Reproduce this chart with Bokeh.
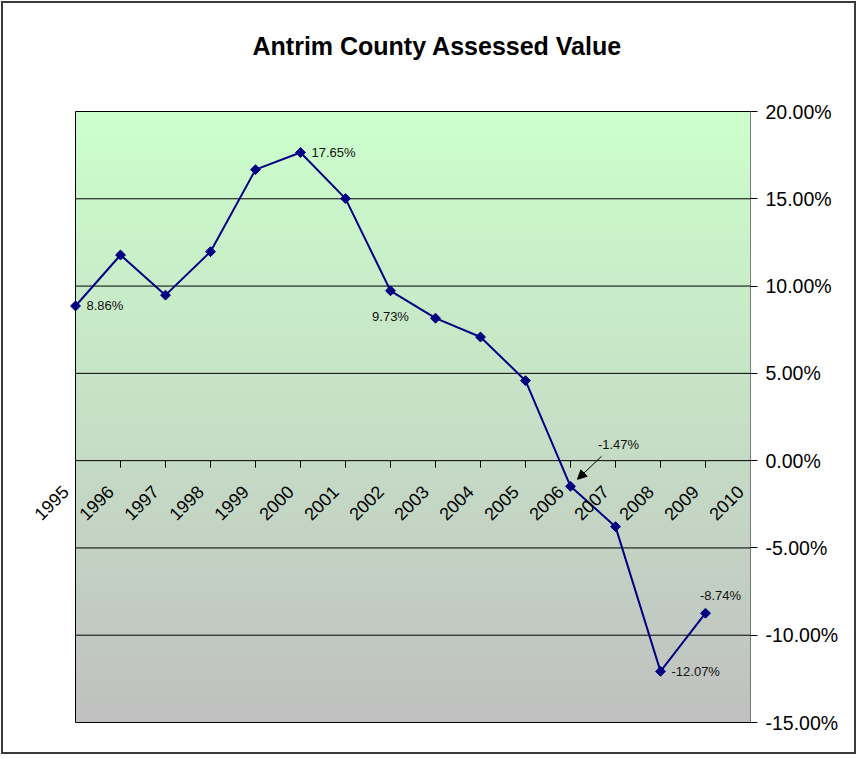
import numpy as np
from math import pi
from bokeh.plotting import figure
from bokeh.models import (FixedTicker, PrintfTickFormatter, Range1d,
                          Arrow, NormalHead, ColumnDataSource, LabelSet)
from bokeh.core.properties import value
from bokeh.embed import file_html
from bokeh.resources import INLINE

# ---- data ----
years = ["1995", "1996", "1997", "1998", "1999", "2000", "2001", "2002",
         "2003", "2004", "2005", "2006", "2007", "2008", "2009", "2010"]
pct = [8.86, 11.78, 9.48, 11.97, 16.67, 17.65, 15.01, 9.73,
       8.16, 7.08, 4.58, -1.47, -3.78, -12.07, -8.74]
y_ticks = [-15, -10, -5, 0, 5, 10, 15, 20]
title = "Antrim County Assessed Value"

cat_pos = list(range(len(years)))
pt_pos = cat_pos[:len(pct)]

FONT = "Liberation Sans"
NAVY = "#000080"

# layout (pixels)
PX_X = 45.0            # pixels per category step
PAD_L = 55             # white room left of the plot area, inside the frame
PAD_T = 48             # white room above the plot area, inside the frame
PLOT_H = 611
PX_Y = PLOT_H / (y_ticks[-1] - y_ticks[0])
EDGE = 1 / PX_Y        # one pixel so the bottom rule is not clipped

x0, x1 = cat_pos[0], cat_pos[-1]
y0, y1 = y_ticks[0], y_ticks[-1]

p = figure(width=855, height=753,
           x_range=Range1d(x0 - PAD_L / PX_X, x1),
           y_range=Range1d(y0 - EDGE, y1 + PAD_T / PX_Y),
           x_axis_location=None, y_axis_location="right",
           output_backend="svg", toolbar_location=None,
           min_border_left=17, min_border_right=108, min_border_top=60, min_border_bottom=33)
p.styles = {"border": "2px solid #3a3a3a", "margin": "1px 0 0 1px"}
p.border_fill_color = "white"
p.background_fill_color = "white"
p.outline_line_color = None

# title
p.title.text = title
p.title.text_font = FONT
p.title.text_font_size = "25px"
p.title.text_font_style = "bold"
p.title.text_color = "black"
p.title.align = "left"
p.title.vertical_align = "bottom"
p.title.offset = 232
p.title.standoff = 8

# gradient background of plot area (style only)
n = 256
t = np.linspace(0.0, 1.0, n)
bottom_c = np.array([192, 192, 192])
top_c = np.array([204, 255, 204])
cols = (bottom_c[None, :] * (1 - t[:, None]) + top_c[None, :] * t[:, None]).round().astype(np.uint32)
img = (255 << 24) | (cols[:, 2] << 16) | (cols[:, 1] << 8) | cols[:, 0]
img = img.reshape(n, 1).astype(np.uint32)
p.image_rgba(image=[img], x=x0, y=y0, dw=x1 - x0, dh=y1 - y0, level="image")

# no automatic grid; rules drawn over the plot area only
for g in p.grid:
    g.visible = False
p.segment(x0=[x0] * len(y_ticks), y0=y_ticks, x1=[x1] * len(y_ticks), y1=y_ticks,
          line_color="black", line_width=1)
# left and right edges of the plot area
p.segment(x0=[x0, x1], y0=[y0, y0], x1=[x0, x1], y1=[y1, y1],
          line_color="black", line_width=1)

# right y axis (line drawn above as the plot-area edge)
ya = p.yaxis[0]
ya.ticker = FixedTicker(ticks=y_ticks)
ya.formatter = PrintfTickFormatter(format="%.2f%%")
ya.major_tick_out = 7
ya.major_tick_in = 0
ya.minor_tick_line_color = None
ya.axis_line_color = None
ya.major_tick_line_color = "black"
ya.major_label_text_font = FONT
ya.major_label_text_font_size = "19.5px"
ya.major_label_text_color = "black"
ya.major_label_standoff = 8

# category tick marks on the zero line
tick_len = 7 / PX_Y
inner = cat_pos[1:-1]
p.segment(x0=inner, y0=[0] * len(inner), x1=inner, y1=[-tick_len] * len(inner),
          line_color="black", line_width=1)

# year labels, rotated
ysrc = ColumnDataSource(dict(x=cat_pos, y=[0] * len(years), text=years))
p.add_layout(LabelSet(x="x", y="y", text="text", source=ysrc, angle=pi / 4,
                      text_align="right", text_baseline="middle",
                      x_offset=-10, y_offset=-28,
                      text_font=value(FONT), text_font_size="18px", text_color="black"))

# series
p.line(pt_pos, pct, line_color=NAVY, line_width=2)
p.scatter(pt_pos, pct, marker="square", angle=pi / 4, size=7,
          fill_color=NAVY, line_color=NAVY)

# data labels
def lab(i, **kw):
    src = ColumnDataSource(dict(x=[pt_pos[i]], y=[pct[i]], text=[f"{pct[i]:.2f}%"]))
    p.add_layout(LabelSet(x="x", y="y", text="text", source=src,
                          text_font=value(FONT), text_font_size="13px",
                          text_color="#111111", **kw))

for i in (0, 5, 13):
    lab(i, text_align="left", text_baseline="middle", x_offset=11)
lab(7, text_align="center", text_baseline="middle", y_offset=-26)
lab(11, text_align="center", text_baseline="middle", x_offset=48, y_offset=42)
lab(14, text_align="center", text_baseline="middle", x_offset=15, y_offset=18)

# arrow pointing to the 2006 value
i = 11
p.add_layout(Arrow(end=NormalHead(size=9, fill_color="black", line_color="black"),
                   x_start=pt_pos[i] + 31 / PX_X, y_start=pct[i] + 30 / PX_Y,
                   x_end=pt_pos[i] + 7 / PX_X, y_end=pct[i] + 7 / PX_Y,
                   line_color="black", line_width=1))

open("out.html", "w").write(file_html(p, INLINE))
